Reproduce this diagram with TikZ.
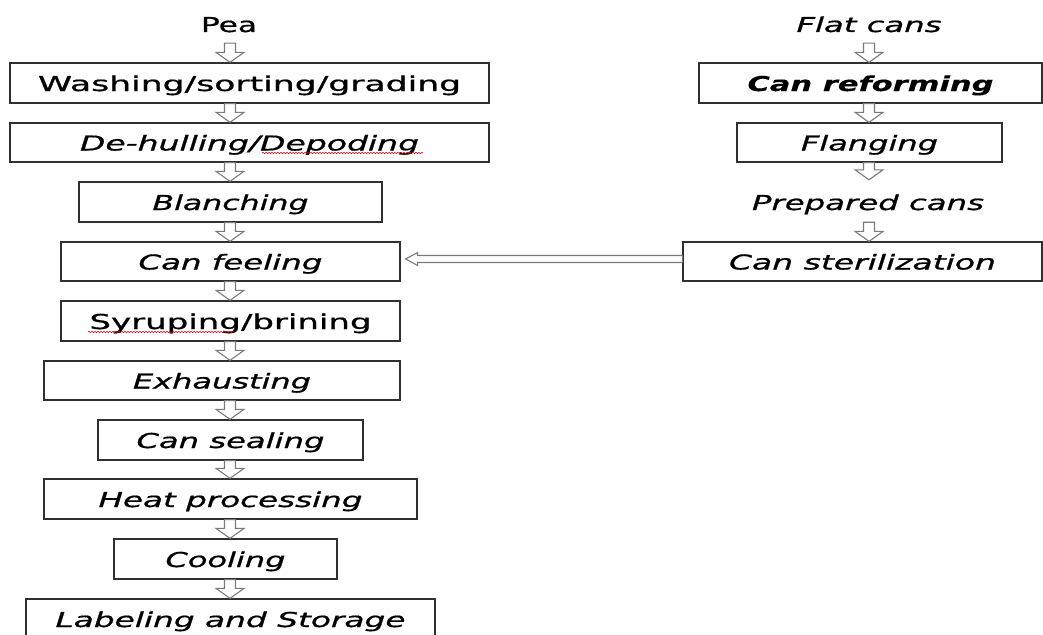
\documentclass[tikz,border=0pt]{standalone}
\usepackage{fontspec}
\setmainfont{DejaVu Sans}[UprightFeatures={FakeBold=0.7}, ItalicFeatures={FakeBold=0.7}, BoldItalicFeatures={FakeBold=0.3}]
\usepackage{graphicx}
\usetikzlibrary{calc,decorations.pathmorphing}
\newcommand{\tx}[2]{\resizebox{#1pt}{\height}{#2}}
\definecolor{boxc}{HTML}{303030}
\definecolor{arrc}{HTML}{7A7A7A}
\tikzset{
  procbox/.style={draw=boxc, line width=1.3pt, inner sep=0pt, minimum height=40pt,
    text height=24pt, text depth=8pt, font=\fontsize{20.5}{24}\selectfont},
  plain/.style={inner sep=0pt, font=\fontsize{20.5}{24}\selectfont},
  vblk/.style={draw=arrc, line width=1.1pt, fill=white, line join=miter,
    to path={let \p1=(\tikztostart), \p2=(\tikztotarget) in
      (\x1-5.5pt,\y1) -- (\x1-5.5pt,\y2+10pt) -- (\x1-14pt,\y2+10pt) -- (\x1,\y2)
      -- (\x1+14pt,\y2+10pt) -- (\x1+5.5pt,\y2+10pt) -- (\x1+5.5pt,\y1) -- cycle}},
  hblk/.style={draw=arrc, line width=1.1pt, fill=white, line join=miter,
    to path={let \p1=(\tikztostart), \p2=(\tikztotarget) in
      (\x1,\y1-3.5pt) -- (\x2+12pt,\y1-3.5pt) -- (\x2+12pt,\y1-6.5pt) -- (\x2,\y1)
      -- (\x2+12pt,\y1+6.5pt) -- (\x2+12pt,\y1+3.5pt) -- (\x1,\y1+3.5pt)}},
  spell/.style={draw=red!85!black, line width=0.5pt,
    decorate, decoration={snake, segment length=3pt, amplitude=0.8pt}}
}
\begin{document}
\begin{tikzpicture}[x=1pt,y=-1pt]
\clip (0,0) rectangle (1043,634);
\fill[white] (0,0) rectangle (1043,634);
\coordinate (colL) at (230,0);
\coordinate (colR) at (869,0);
% left column
\node[plain, anchor=base, text height=14pt, text depth=11pt] (pea) at (229,32) {\tx{56}{Pea}};
\node[procbox, minimum width=479pt] (wash) at (249.5,83) {\tx{423}{Washing/sorting/grading}};
\node[procbox, minimum width=479pt, minimum height=39pt] (dehull) at (249.5,142.5) {\tx{339}{\itshape De-hulling/Depoding}};
\node[procbox, minimum width=303pt] (blanch) at (230.5,202) {\tx{156}{\itshape Blanching}};
\node[procbox, minimum width=339pt, minimum height=39pt] (canfill) at (230.5,261.5) {\tx{184}{\itshape Can feeling}};
\node[procbox, minimum width=339pt] (syrup) at (230.5,321) {\tx{282}{Syruping/brining}};
\node[procbox, minimum width=356pt, minimum height=39pt] (exhaust) at (222,380.5) {\tx{178}{\itshape Exhausting}};
\node[procbox, minimum width=265pt] (seal) at (230.5,440) {\tx{188}{\itshape Can sealing}};
\node[procbox, minimum width=373pt] (heat) at (230.5,499) {\tx{264}{\itshape Heat processing}};
\node[procbox, minimum width=223pt] (cool) at (225.5,559) {\tx{120}{\itshape Cooling}};
\node[procbox, minimum width=409pt] (label) at (230.5,619) {\tx{350}{\itshape Labeling and Storage}};
% right column
\node[plain, anchor=base, text height=14pt, text depth=11pt] (flat) at (869,32) {\tx{145}{\itshape Flat cans}};
\node[procbox, minimum width=343pt] (reform) at (870.5,83) {\tx{246}{\bfseries\itshape Can reforming}};
\node[procbox, minimum width=265pt, minimum height=39pt] (flange) at (869.5,142.5) {\tx{137}{\itshape Flanging}};
\node[plain, anchor=base, text height=30pt, text depth=12pt] (prep) at (868,210) {\tx{232}{\itshape Prepared cans}};
\node[procbox, minimum width=359pt, minimum height=39pt] (steril) at (862.5,261.5) {\tx{267}{\itshape Can sterilization}};
% spell-check underlines
\draw[spell] (262,153) -- (423,153);
\draw[spell] (88,332) -- (235,332);
% arrows left
\draw[vblk] (pea.south -| colL) to (wash.north -| colL);
\draw[vblk] (wash.south -| colL) to (dehull.north -| colL);
\draw[vblk] (dehull.south -| colL) to (blanch.north -| colL);
\draw[vblk] (blanch.south -| colL) to (canfill.north -| colL);
\draw[vblk] (canfill.south -| colL) to (syrup.north -| colL);
\draw[vblk] (syrup.south -| colL) to (exhaust.north -| colL);
\draw[vblk] (exhaust.south -| colL) to (seal.north -| colL);
\draw[vblk] (seal.south -| colL) to (heat.north -| colL);
\draw[vblk] (heat.south -| colL) to (cool.north -| colL);
\draw[vblk] (cool.south -| colL) to (label.north -| colL);
% arrows right
\draw[vblk] (flat.south -| colR) to (reform.north -| colR);
\draw[vblk] (reform.south -| colR) to (flange.north -| colR);
\draw[vblk] (flange.south -| colR) to (prep.north -| colR);
\draw[vblk] (prep.south -| colR) to (steril.north -| colR);
% horizontal arrow
\draw[hblk] ([yshift=2.5pt]steril.west) to ([shift={(5pt,2.5pt)}]canfill.east);
\end{tikzpicture}
\end{document}
